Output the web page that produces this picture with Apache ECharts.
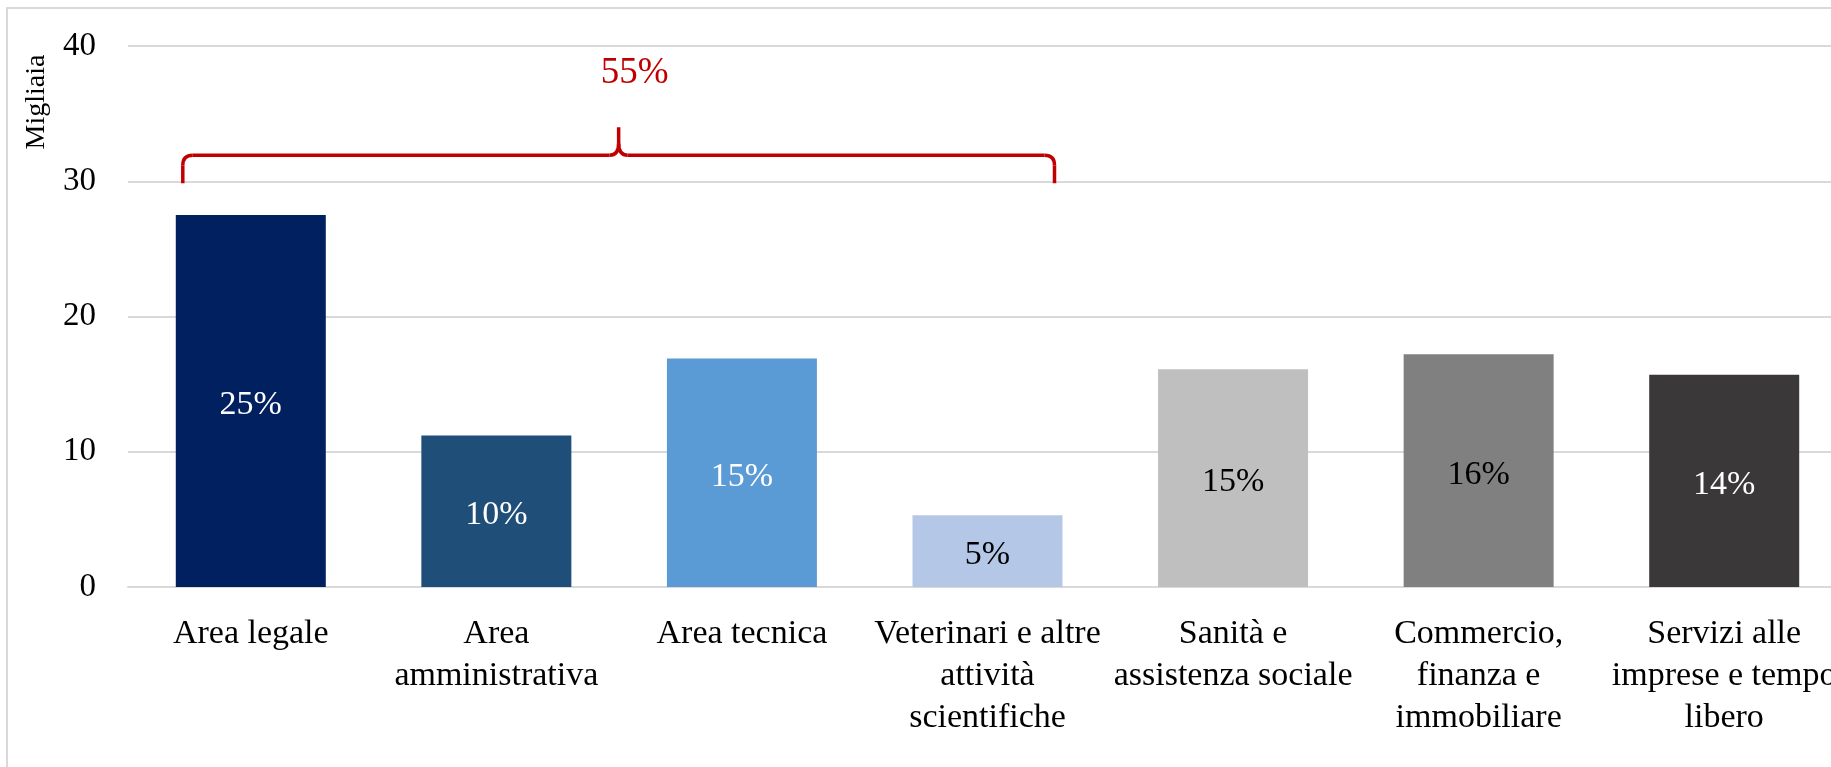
<!DOCTYPE html>
<html>
<head>
    <meta charset="utf-8">
    <title>Migliaia per area</title>
    <script src="https://cdn.jsdelivr.net/npm/echarts@6/dist/echarts.min.js"></script>
    <style>
        html, body { margin: 0; padding: 0; overflow: hidden; background: #fff; }
        #main { position: absolute; left: 0; top: 0; width: 1900px; height: 767px; }
    </style>
</head>
<body>
<div id="main"></div>
<script type="text/javascript">
    // dati
    var categories = ['Area legale', 'Area\namministrativa', 'Area tecnica',
        'Veterinari e altre\nattività\nscientifiche', 'Sanità e\nassistenza sociale',
        'Commercio,\nfinanza e\nimmobiliare', 'Servizi alle\nimprese e tempo\nlibero'];
    var values = [27.5, 11.2, 16.9, 5.3, 16.1, 17.2, 15.7];
    var shares = ['25%', '10%', '15%', '5%', '15%', '16%', '14%'];
    var yTicks = [0, 10, 20, 30, 40];
    var bracketLabel = '55%';

    var barColors = ['#002060', '#1F4E79', '#5B9BD5', '#B4C7E7', '#BFBFBF', '#808080', '#3A3838'];
    var textColors = ['#fff', '#fff', '#fff', '#000', '#000', '#000', '#fff'];
    var font = '"Liberation Serif", "DejaVu Serif", serif';
    var red = '#C00000';

    var myChart = echarts.init(document.getElementById('main'));

    var seriesData = values.map(function (v, i) {
        return {
            value: v,
            itemStyle: {color: barColors[i]},
            label: {color: textColors[i]}
        };
    });

    myChart.setOption({
        animation: false,
        backgroundColor: '#fff',
        grid: {left: 128, top: 46, width: 1719, height: 541},
        xAxis: {
            type: 'category',
            data: categories,
            axisTick: {show: false},
            axisLine: {lineStyle: {color: '#d9d9d9', width: 2}},
            axisLabel: {
                interval: 0, margin: 26, color: '#000',
                fontFamily: font, fontSize: 34, lineHeight: 42
            }
        },
        yAxis: {
            type: 'value',
            min: yTicks[0],
            max: yTicks[yTicks.length - 1],
            interval: 10,
            axisLine: {show: false},
            axisTick: {show: false},
            splitLine: {lineStyle: {color: '#d9d9d9', width: 2}},
            axisLabel: {margin: 32, color: '#000', fontFamily: font, fontSize: 33}
        },
        series: [{
            type: 'bar',
            barWidth: 150,
            data: seriesData,
            label: {
                show: true,
                position: 'inside',
                fontFamily: font,
                fontSize: 34,
                offset: [0, 4],
                formatter: function (p) { return shares[p.dataIndex]; }
            }
        }]
    });

    // parentesi graffa sopra le prime quattro aree
    var xl = myChart.convertToPixel({xAxisIndex: 0}, 0) - 68;
    var xr = myChart.convertToPixel({xAxisIndex: 0}, 3) + 67;
    var yBase = myChart.convertToPixel({yAxisIndex: 0}, 30) + 2;
    var xm = (xl + xr) / 2;
    var yh = yBase - 28;
    var r = 10;
    var braceStyle = {stroke: red, lineWidth: 3.5, fill: 'none'};

    function seg(x1, y1, x2, y2) {
        return {type: 'line', shape: {x1: x1, y1: y1, x2: x2, y2: y2}, style: braceStyle, silent: true};
    }
    function curve(x1, y1, cx, cy, x2, y2) {
        return {type: 'bezierCurve', shape: {x1: x1, y1: y1, cpx1: cx, cpy1: cy, x2: x2, y2: y2},
            style: braceStyle, silent: true};
    }

    var graphics = [
        {
            type: 'rect',
            shape: {x: 7, y: 8, width: 2000, height: 1000},
            style: {fill: 'none', stroke: '#d9d9d9', lineWidth: 2},
            silent: true
        },
        {
            type: 'text',
            x: 37, y: 102, rotation: Math.PI / 2,
            style: {
                text: 'Migliaia', fontFamily: font, fontSize: 28, fill: '#000',
                align: 'center', verticalAlign: 'middle'
            }
        },
        seg(xl, yBase, xl, yh + r),
        curve(xl, yh + r, xl, yh, xl + r, yh),
        seg(xl + r, yh, xm - 9, yh),
        curve(xm - 9, yh, xm, yh, xm, yh - 12),
        seg(xm, yh - 12, xm, yh - 28),
        curve(xm, yh - 12, xm, yh, xm + 9, yh),
        seg(xm + 9, yh, xr - r, yh),
        curve(xr - r, yh, xr, yh, xr, yh + r),
        seg(xr, yh + r, xr, yBase),
        {
            type: 'text',
            x: xm + 16, y: 73,
            style: {
                text: bracketLabel, fontFamily: font, fontSize: 37, fill: red,
                align: 'center', verticalAlign: 'middle'
            }
        }
    ];

    myChart.setOption({graphic: graphics});
</script>
</body>
</html>
